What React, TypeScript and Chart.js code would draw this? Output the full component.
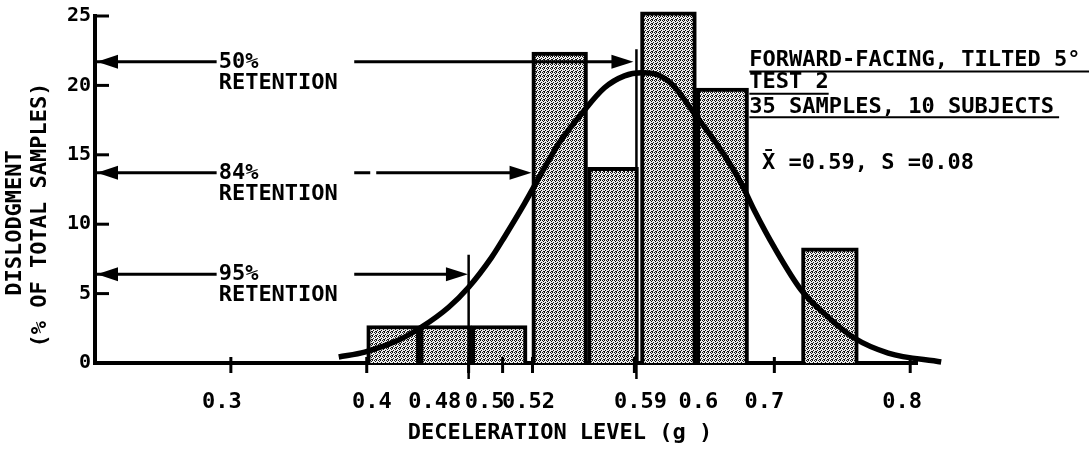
import React, { useEffect, useRef } from 'react';
import { Chart, registerables } from 'chart.js';

Chart.register(...registerables);

// ---- Histogram bins (deceleration level, g) ----
const binStart = [0.4, 0.439, 0.477, 0.5215, 0.5625, 0.6015, 0.6426, 0.72];
const binEnd = [0.439, 0.477, 0.518, 0.5625, 0.6, 0.6426, 0.681, 0.7618];
const binPercent = [2.7, 2.7, 2.7, 22.4, 14.1, 25.3, 19.8, 8.3];

// ---- Fitted normal curve ----
const curveX = [0.3794, 0.3985, 0.4235, 0.4404, 0.4603, 0.475, 0.4919, 0.5015, 0.5162, 0.5265, 0.5412, 0.5581, 0.575, 0.5897, 0.6022, 0.6118, 0.6243, 0.6412, 0.661, 0.6757, 0.6853, 0.7, 0.7199, 0.7397, 0.7588, 0.7838, 0.8228];
const curveY = [0.43, 0.79, 1.65, 2.59, 4.02, 5.46, 7.61, 9.1, 11.5, 13.3, 15.8, 17.96, 19.83, 20.69, 20.91, 20.83, 20.11, 17.96, 15.3, 12.93, 10.99, 8.33, 5.24, 3.3, 1.8, 0.72, 0.07];

// ---- X axis tick labels (positions as printed) ----
const xTickPositions = [0.2934, 0.4037, 0.45, 0.4868, 0.5191, 0.6015, 0.644, 0.6926, 0.794];
const xTickLabels = ['0.3', '0.4', '0.48', '0.5', '0.52', '0.59', '0.6', '0.7', '0.8'];
const xTickMarks = [0.3, 0.4, 0.475, 0.5, 0.522, 0.597, 0.7, 0.8];
const yTickValues = [0, 5, 10, 15, 20, 25];

// ---- Annotations ----
const retentionLabels = ['50%', '84%', '95%'];
const retentionLevels = [21.7, 13.7, 6.4];
const retentionTargets = [0.5963, 0.5213, 0.4745];
const retentionDashed = [false, true, false];
const refLineX = [0.5985, 0.475];
const refLineTop = [22.6, 7.8];
const noteLines = ['FORWARD-FACING, TILTED 5°', 'TEST 2', '35 SAMPLES, 10 SUBJECTS'];
const noteBaselines = [21.4, 19.8, 18.0];
const noteUnderlines = [21.0, 19.4, 17.7];
const noteUnderlineEnds = [0.9316, 0.74, 0.9096];
const statsText = 'X\u0304 =0.59, S =0.08';

const MONO = '"DejaVu Sans Mono", "Liberation Mono", monospace';

function makeStipple(): CanvasPattern | string {
  const c = document.createElement('canvas');
  c.width = 4;
  c.height = 4;
  const g = c.getContext('2d');
  if (!g) return '#b4b4b4';
  g.fillStyle = '#efefef';
  g.fillRect(0, 0, 4, 4);
  g.fillStyle = '#151515';
  [[0, 0], [2, 0], [3, 1], [1, 2], [3, 3], [0, 3]].forEach(([x, y]) => g.fillRect(x, y, 1, 1));
  return g.createPattern(c, 'repeat') || '#b4b4b4';
}

const annotatePlugin = {
  id: 'annotate',
  afterDraw(chart: any) {
    const { ctx, chartArea } = chart;
    const xs = chart.scales.x;
    const ys = chart.scales.y;
    const X = (v: number) => xs.getPixelForValue(v);
    const Y = (v: number) => ys.getPixelForValue(v);
    const line = (x1: number, y1: number, x2: number, y2: number, w: number) => {
      ctx.lineWidth = w;
      ctx.beginPath();
      ctx.moveTo(x1, y1);
      ctx.lineTo(x2, y2);
      ctx.stroke();
    };
    const head = (tip: number, y: number, dir: number, len: number, half: number) => {
      ctx.beginPath();
      ctx.moveTo(tip, y);
      ctx.lineTo(tip - dir * len, y - half);
      ctx.lineTo(tip - dir * len, y + half);
      ctx.closePath();
      ctx.fill();
    };
    ctx.save();
    ctx.strokeStyle = '#000';
    ctx.fillStyle = '#000';
    ctx.lineCap = 'butt';

    // y tick marks (inside)
    yTickValues.forEach((v) => line(chartArea.left, Y(v), chartArea.left + 14, Y(v), 3));
    // x tick marks (crossing axis)
    xTickMarks.forEach((v) => line(X(v), chartArea.bottom - 6, X(v), chartArea.bottom + 10, 3));

    // reference vertical lines
    refLineX.forEach((v, i) => line(X(v), Y(refLineTop[i]), X(v), chartArea.bottom + 16, 2.5));

    // retention arrows
    ctx.font = `bold 22px ${MONO}`;
    ctx.textBaseline = 'middle';
    ctx.textAlign = 'left';
    retentionLabels.forEach((lab, i) => {
      const py = Y(retentionLevels[i]);
      const textX = X(0.291);
      line(chartArea.left + 2, py, textX - 2, py, 3);
      head(chartArea.left + 2, py, -1, 21, 7);
      ctx.fillText(lab, textX, py);
      ctx.fillText('RETENTION', textX, py + 21);
      const tip = X(retentionTargets[i]);
      if (retentionDashed[i]) ctx.setLineDash([16, 6, 400, 0]);
      line(X(0.3908), py, tip - 18, py, 3);
      ctx.setLineDash([]);
      head(tip, py, 1, 22, 7);
    });

    // note block
    noteLines.forEach((t, i) => {
      ctx.textBaseline = 'alphabetic';
      ctx.fillText(t, X(0.6816), Y(noteBaselines[i]));
      line(X(0.6816), Y(noteUnderlines[i]), X(noteUnderlineEnds[i]), Y(noteUnderlines[i]), 2);
    });
    ctx.fillText(statsText, X(0.691), Y(14.0));

    // axis titles
    ctx.textAlign = 'center';
    ctx.textBaseline = 'middle';
    ctx.fillText('DECELERATION LEVEL (g )', 560, 433);
    ctx.save();
    ctx.translate(15, 223);
    ctx.rotate(-Math.PI / 2);
    ctx.fillText('DISLODGMENT', 0, 0);
    ctx.restore();
    ctx.save();
    ctx.translate(40, 215);
    ctx.rotate(-Math.PI / 2);
    ctx.fillText('(% OF TOTAL SAMPLES)', 0, 0);
    ctx.restore();

    ctx.restore();
  },
};

export default function App() {
  const ref = useRef<HTMLCanvasElement>(null);
  useEffect(() => {
    if (!ref.current) return;
    const stipple = makeStipple();
    const barSets = binPercent.map((p, i) => ({
      type: 'bar' as const,
      data: [{ x: (binStart[i] + binEnd[i]) / 2, y: p }],
      backgroundColor: stipple,
      borderColor: '#000',
      borderWidth: 4,
      grouped: false,
      clip: false as any,
      order: 2,
      barThickness: (c: any) => {
        const s = c.chart.scales.x;
        return s.getPixelForValue(binEnd[i]) - s.getPixelForValue(binStart[i]);
      },
    }));
    const curveSet = {
      type: 'line' as const,
      data: curveX.map((x, i) => ({ x, y: curveY[i] })),
      borderColor: '#000',
      borderWidth: 5.5,
      pointRadius: 0,
      fill: false,
      cubicInterpolationMode: 'monotone' as const,
      clip: false as any,
      order: 0,
    };
    const chart = new Chart(ref.current, {
      type: 'bar',
      data: { datasets: [...barSets, curveSet] as any },
      options: {
        animation: false,
        responsive: false,
        devicePixelRatio: 1,
        layout: { padding: { top: 15, right: 175, left: 0, bottom: 0 } },
        plugins: { legend: { display: false }, tooltip: { enabled: false } },
        scales: {
          x: {
            type: 'linear',
            min: 0.2,
            max: 0.805,
            offset: false,
            grid: { display: false, drawTicks: false, offset: false },
            border: { display: true, color: '#000', width: 4 },
            afterBuildTicks: (s: any) => {
              s.ticks = xTickPositions.map((v) => ({ value: v }));
            },
            afterFit: (s: any) => {
              s.height = 86;
            },
            ticks: {
              autoSkip: false,
              maxRotation: 0,
              padding: 26,
              color: '#000',
              font: { family: MONO, size: 22, weight: 'bold' },
              callback: (_v: any, i: number) => xTickLabels[i],
            },
          },
          y: {
            min: 0,
            max: 25,
            grid: { display: false, drawTicks: false },
            border: { display: true, color: '#000', width: 4 },
            afterBuildTicks: (s: any) => {
              s.ticks = yTickValues.map((v) => ({ value: v }));
            },
            afterFit: (s: any) => {
              s.width = 95;
            },
            ticks: {
              padding: 4,
              color: '#000',
              font: { family: MONO, size: 20, weight: 'bold' },
              callback: (v: any) => String(v),
            },
          },
        },
      },
      plugins: [annotatePlugin],
    });
    return () => chart.destroy();
  }, []);
  return (
    <div style={{ position: 'absolute', left: 0, top: 0, width: 1092, height: 449, background: '#fff' }}>
      <canvas ref={ref} width={1092} height={449} style={{ display: 'block' }} />
    </div>
  );
}
